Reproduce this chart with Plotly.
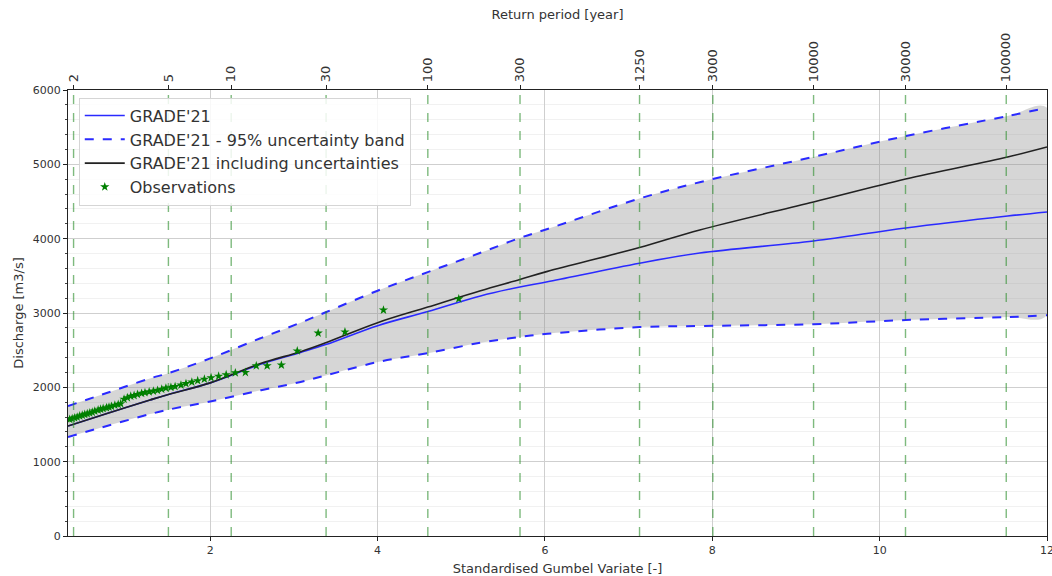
import numpy as np
import plotly.graph_objects as go

# Standardised Gumbel variate at which the frequency curves are given
gumbel_x = [0.30, 0.70, 1.28, 1.50, 2.00, 2.60, 3.08, 3.38, 4.00, 4.60, 5.23,
            5.70, 6.03, 7.13, 7.85, 9.21, 10.31, 11.53, 12.00]

# GRADE'21 median discharge [m3/s]
grade = [1480, 1625, 1830, 1905, 2060, 2310, 2470, 2575, 2830, 3020, 3230,
         3350, 3420, 3670, 3807, 3969, 4144, 4305, 4359]
# 95% uncertainty band
band_upper = [1749, 1900, 2120, 2190, 2390, 2660, 2870, 3010, 3300, 3550, 3810,
              4010, 4130, 4540, 4760, 5100, 5380, 5650, 5760]
band_lower = [1332, 1460, 1640, 1700, 1810, 1960, 2072, 2160, 2340, 2460, 2600,
              2677, 2720, 2810, 2825, 2850, 2905, 2945, 2970]
# GRADE'21 including uncertainties
grade_unc = [1480, 1625, 1830, 1905, 2060, 2320, 2480, 2600, 2870, 3080, 3300,
             3450, 3560, 3880, 4117, 4494, 4803, 5099, 5233]

# Observed annual maxima (plotting position, discharge)
obs_x = [4.97, 4.07, 3.61, 3.29, 3.04, 2.85, 2.68, 2.55, 2.42, 2.30, 2.19, 2.10,
         2.01, 1.93, 1.85, 1.78, 1.71, 1.65, 1.58, 1.53, 1.47, 1.42, 1.37, 1.32,
         1.27, 1.22, 1.18, 1.13, 1.09, 1.05, 1.01, 0.97, 0.93, 0.90, 0.86, 0.82,
         0.79, 0.76, 0.72, 0.69, 0.66, 0.62, 0.59, 0.56, 0.53, 0.50, 0.47, 0.44,
         0.41, 0.38, 0.35, 0.32]
obs_q = [3190, 3040, 2745, 2730, 2490, 2300, 2290, 2290, 2200, 2195, 2170, 2150,
         2130, 2110, 2090, 2070, 2050, 2030, 2010, 2000, 1990, 1975, 1960, 1950,
         1940, 1930, 1920, 1905, 1890, 1880, 1860, 1840, 1780, 1770, 1760, 1745,
         1735, 1725, 1715, 1705, 1695, 1680, 1665, 1655, 1645, 1635, 1625, 1615,
         1600, 1590, 1580, 1570]

# Return periods marked on the top axis
return_periods = [2, 5, 10, 30, 100, 300, 1250, 3000, 10000, 30000, 100000]
rp_labels = [str(t) for t in return_periods]
rp_pos = [-np.log(-np.log(1.0 - 1.0 / t)) for t in return_periods]

X_RANGE = [0.3, 12.0]
Y_RANGE = [0, 6000]
FONT = "DejaVu Sans"

fig = go.Figure()

# uncertainty band (filled polygon, drawn behind the lines)
fig.add_trace(go.Scatter(x=gumbel_x + gumbel_x[::-1],
                         y=band_upper + band_lower[::-1], mode="lines",
                         line=dict(color="rgba(0,0,0,0)", width=0, shape="spline"),
                         fill="toself", fillcolor="rgba(140,140,140,0.36)",
                         showlegend=False, hoverinfo="skip"))

fig.add_trace(go.Scatter(x=gumbel_x, y=grade, mode="lines", name="GRADE'21",
                         line=dict(color="#2a2aff", width=1.6, shape="spline")))
fig.add_trace(go.Scatter(x=gumbel_x, y=band_upper, mode="lines",
                         name="GRADE'21 - 95% uncertainty band",
                         line=dict(color="#2a2aff", width=2, dash="dash", shape="spline")))
fig.add_trace(go.Scatter(x=gumbel_x, y=band_lower, mode="lines",
                         name="GRADE'21 - 95% uncertainty band", showlegend=False,
                         line=dict(color="#2a2aff", width=2, dash="dash", shape="spline")))
fig.add_trace(go.Scatter(x=gumbel_x, y=grade_unc, mode="lines",
                         name="GRADE'21 including uncertainties",
                         line=dict(color="#222222", width=1.6, shape="spline")))
fig.add_trace(go.Scatter(x=obs_x, y=obs_q, mode="markers", name="Observations",
                         marker=dict(symbol="star", size=7, color="#008000",
                                     line=dict(width=0))))

# vertical return-period lines on the top axis
vx, vy = [], []
for p in rp_pos:
    vx += [p, p, None]
    vy += [Y_RANGE[0], Y_RANGE[1], None]
fig.add_trace(go.Scatter(x=vx, y=vy, mode="lines", xaxis="x2", showlegend=False,
                         line=dict(color="rgba(40,140,40,0.6)", width=1.4, dash="dash"),
                         hoverinfo="skip"))

axis_common = dict(showline=True, linecolor="#222222", linewidth=1.2,
                   ticks="outside", ticklen=4, tickcolor="#222222",
                   zeroline=False, ticklabeloverflow="allow", automargin=False)

fig.update_layout(
    width=1052, height=576,
    margin=dict(l=68, r=5, t=90, b=40, autoexpand=False),
    paper_bgcolor="white", plot_bgcolor="white",
    font=dict(family=FONT, color="#333333"),
    xaxis=dict(range=X_RANGE, tickvals=[2, 4, 6, 8, 10, 12], mirror=True,
               showgrid=True, gridcolor="#cfcfcf", gridwidth=1,
               tickfont=dict(family=FONT, size=11, color="#333333"),
               title=dict(text="Standardised Gumbel Variate [-]", standoff=8,
                          font=dict(family=FONT, size=13, color="#333333")),
               **axis_common),
    xaxis2=dict(range=X_RANGE, overlaying="x", side="top", tickvals=rp_pos,
                ticktext=rp_labels, tickangle=-90, showgrid=False,
                tickfont=dict(family=FONT, size=13, color="#333333"),
                title=dict(text="Return period [year]", standoff=10,
                           font=dict(family=FONT, size=13, color="#333333")),
                **axis_common),
    yaxis=dict(range=Y_RANGE, dtick=1000, mirror=True,
               showgrid=True, gridcolor="#cfcfcf", gridwidth=1,
               tickfont=dict(family=FONT, size=11, color="#333333"),
               minor=dict(dtick=200, showgrid=True, gridcolor="#f1f1f1",
                          ticks="outside", ticklen=2, tickcolor="#444444"),
               title=dict(text="Discharge [m3/s]", standoff=6,
                          font=dict(family=FONT, size=13, color="#333333")),
               **axis_common),
    legend=dict(x=0.011, y=0.983, xanchor="left", yanchor="top",
                traceorder="normal",
                bgcolor="rgba(255,255,255,0.85)", bordercolor="#d5d5d5",
                borderwidth=1, font=dict(family=FONT, size=16, color="#333333"),
                tracegroupgap=0, itemwidth=40),
    showlegend=True,
)

fig.write_html("out.html")
